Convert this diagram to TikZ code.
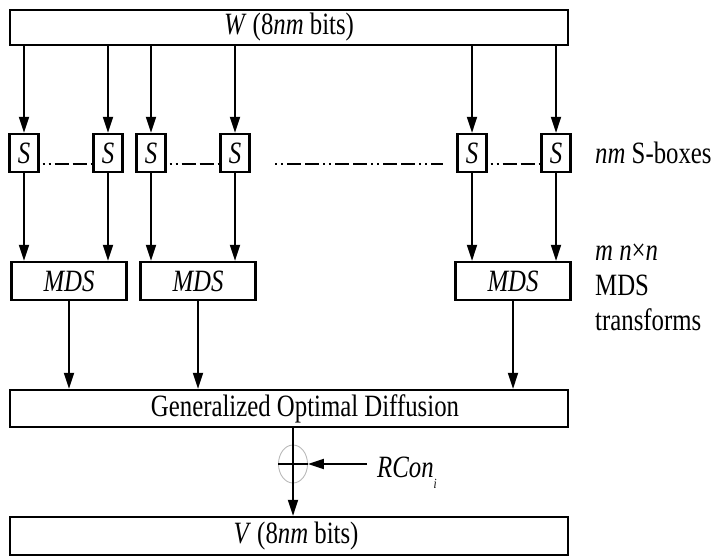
\documentclass[tikz,border=0pt]{standalone}
\usepackage{fontspec}
\setmainfont{Liberation Serif}[FakeStretch=0.8]
\usetikzlibrary{arrows.meta,shapes.geometric}
\begin{document}
\begin{tikzpicture}[x=1pt,y=-1pt,
  txt/.style={font=\fontsize{31}{36}\selectfont},
  box/.style={draw, line width=2.2pt, rectangle, inner sep=0pt, txt},
  sbox/.style={box, minimum width=29pt, minimum height=38pt},
  mbox/.style={box, minimum width=115pt, minimum height=38pt},
  wide/.style={box, minimum width=558pt},
  arr/.style={line width=1.8pt, -{Triangle[length=16pt,width=10pt]}},
  dotdash/.style={line width=1.8pt, dash pattern=on 2pt off 4pt on 2pt off 4pt on 14pt off 4pt on 14pt off 4pt},
  lab/.style={txt, anchor=base west, inner sep=0pt}]
\useasboundingbox (0,0) rectangle (711,557);

% input word
\node[wide, minimum height=35pt] (W) at (289,27.5) {};
\node[txt] (wtxt) at (289,27.5) {\textit{W} (8\textit{nm} bits)};

% S-box layer
\node[sbox] (s1) at (24,153) {\textit{S}};
\node[sbox] (s2) at (108,153) {\textit{S}};
\node[sbox] (s3) at (151,153) {\textit{S}};
\node[sbox] (s4) at (235,153) {\textit{S}};
\node[sbox] (s5) at (472,153) {\textit{S}};
\node[sbox] (s6) at (556,153) {\textit{S}};

\foreach \s in {s1,s2,s3,s4,s5,s6}
  \draw[arr] (\s |- W.south) -- (\s.north);

\draw[dotdash] ([yshift=-11pt]s1.east) ++(3pt,0) -- ([yshift=-11pt]s2.west);
\draw[dotdash] ([yshift=-11pt]s3.east) ++(3pt,0) -- ([yshift=-11pt]s4.west);
\draw[dotdash] ([yshift=-11pt]s5.east) ++(3pt,0) -- ([yshift=-11pt]s6.west);
\coordinate (d1) at (275,164);
\coordinate (d2) at (443,164);
\draw[dotdash] (d1) -- (d2);

\node[lab] (nms) at (595,163) {\textit{nm} S-boxes};

% MDS layer
\node[mbox] (m1) at (69,281) {\textit{MDS}};
\node[mbox] (m2) at (198,281) {\textit{MDS}};
\node[mbox] (m3) at (513,281) {\textit{MDS}};

\draw[arr] (s1) -- (s1 |- m1.north);
\draw[arr] (s2) -- (s2 |- m1.north);
\draw[arr] (s3) -- (s3 |- m2.north);
\draw[arr] (s4) -- (s4 |- m2.north);
\draw[arr] (s5) -- (s5 |- m3.north);
\draw[arr] (s6) -- (s6 |- m3.north);

\node[lab] (mnn) at (595,260) {\textit{m n}×\textit{n}};
\node[lab] (mds) at (595,295) {MDS};
\node[lab] (trf) at (595,330) {transforms};

% diffusion layer
\node[wide, minimum height=37pt] (G) at (289,408.5) {};
\node[txt] (gtxt) at (305,408.5) {Generalized Optimal Diffusion};

\foreach \m in {m1,m2,m3}
  \draw[arr] (\m) -- (\m |- G.north);

% round constant addition
\node[draw=gray!55, line width=0.9pt, ellipse, minimum width=29pt, minimum height=38pt, inner sep=0pt] (xo) at (293,464) {};
\draw[line width=1.8pt] (xo.west) -- (xo.east);
\coordinate (rcs) at (367,464);
\draw[arr] (rcs) -- (xo.east);
\node[lab] (rc) at (377,477) {\textit{RCon}\raisebox{-11pt}{\fontsize{14}{14}\selectfont\textit{i}}};

% output word
\node[wide, minimum height=38pt] (V) at (289,536) {};
\node[txt] (vtxt) at (296,536) {\textit{V} (8\textit{nm} bits)};

\draw[arr] (G.south -| xo) -- (V.north -| xo);
\end{tikzpicture}
\end{document}
